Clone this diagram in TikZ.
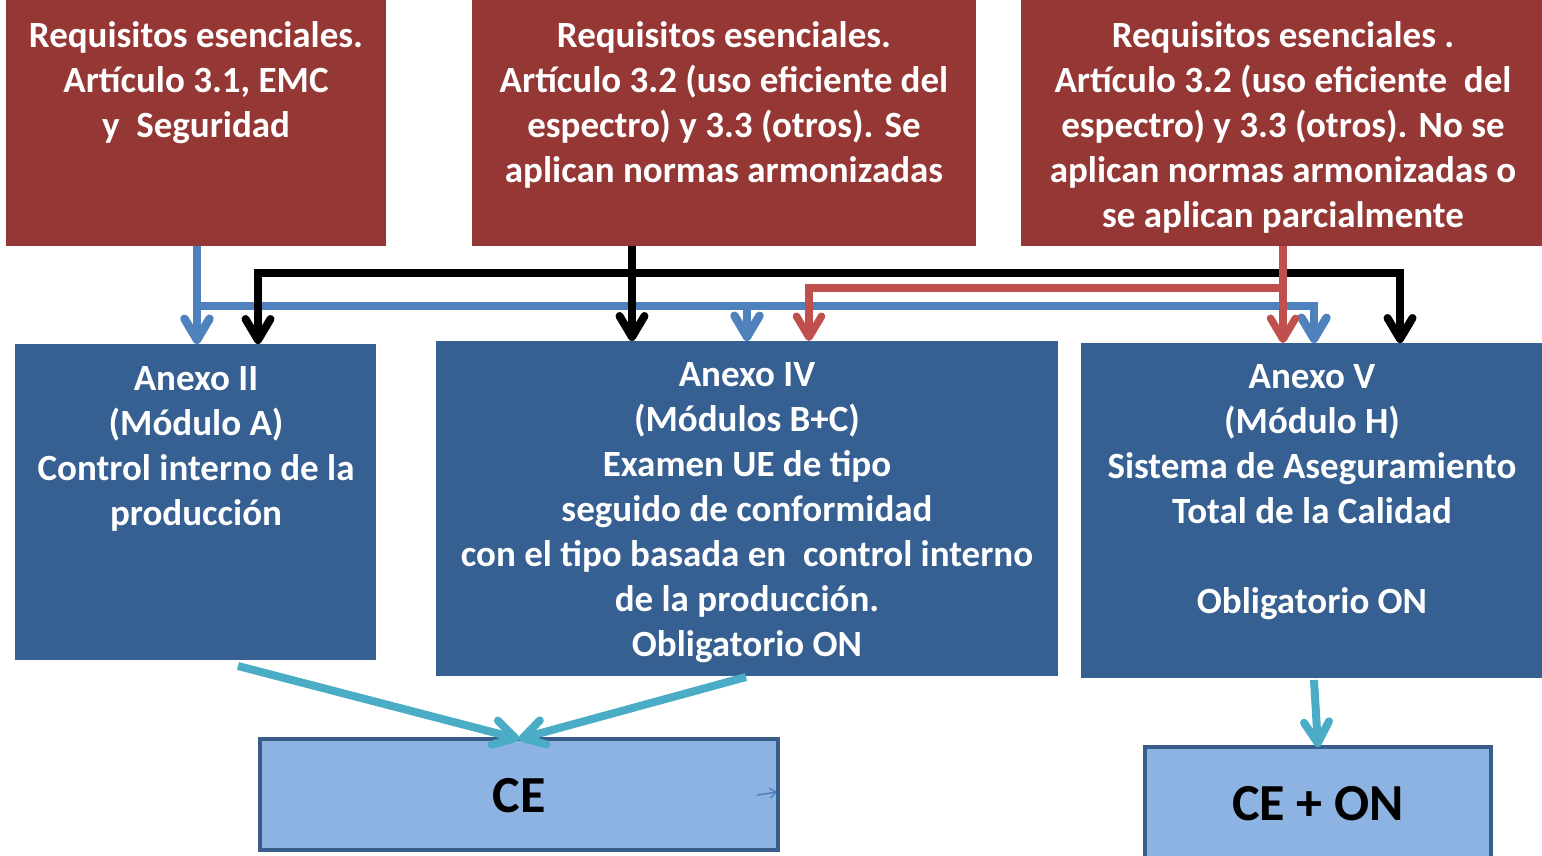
\documentclass[tikz,border=0pt]{standalone}
\usepackage{fontspec}
\setmainfont{Carlito}
\usetikzlibrary{arrows.meta,calc}
\definecolor{boxred}{HTML}{953735}
\definecolor{boxblue}{HTML}{376092}
\definecolor{lineblue}{HTML}{4F81BD}
\definecolor{linered}{HTML}{C0504D}
\definecolor{linecyan}{HTML}{4BACC6}
\definecolor{cefill}{HTML}{8DB3E2}
\definecolor{ceborder}{HTML}{385D8A}
\newcommand\mystrutA{\rule{0pt}{30pt}}
\tikzset{
  panel/.style={rectangle, inner sep=0pt, outer sep=0pt, anchor=north west},
  redbox/.style={panel, fill=boxred},
  bluebox/.style={panel, fill=boxblue},
  lbl/.style={inner sep=0pt, anchor=north, align=center, text=white,
              font=\fontsize{37}{45}\selectfont\bfseries},
  resbox/.style={panel, fill=cefill, draw=ceborder, line width=4pt},
  reslbl/.style={inner sep=0pt, text=black, font=\fontsize{52}{60}\selectfont\bfseries},
  tipend/.style={-{Straight Barb[length=21pt,width=25pt,round]}},
  tipboth/.style={{Straight Barb[length=21pt,width=25pt,round]}-{Straight Barb[length=21pt,width=25pt,round]}},
  bline/.style={draw=lineblue, line width=8.5pt},
  kline/.style={draw=black, line width=8pt},
  rline/.style={draw=linered, line width=7.5pt},
  cline/.style={draw=linecyan, line width=8pt},
}
\begin{document}
\begin{tikzpicture}[x=1pt,y=-1pt]
\useasboundingbox (0,0) rectangle (1542,855);

% top boxes
\node[redbox, minimum width=380pt, minimum height=246pt] (r1) at (6,0) {};
\node[redbox, minimum width=504pt, minimum height=246pt] (r2) at (472,0) {};
\node[redbox, minimum width=521pt, minimum height=246pt] (r3) at (1021,0) {};
\node[lbl] (r1t) at (196,17) {\mystrutA Requisitos esenciales.\\ Artículo 3.1, EMC\\ y\ \ Seguridad};
\node[lbl] (r2t) at (724,17) {\mystrutA Requisitos esenciales.\\ Artículo 3.2 (uso eficiente del\\ espectro) y 3.3 (otros). Se\\ aplican normas armonizadas};
\node[lbl] (r3t) at (1283,17) {\mystrutA Requisitos esenciales .\\ Artículo 3.2 (uso eficiente\ \ del\\ espectro) y 3.3 (otros). No se\\ aplican normas armonizadas o\\ se aplican parcialmente};

% middle boxes
\node[bluebox, minimum width=361pt, minimum height=316pt] (a1) at (15,344) {};
\node[bluebox, minimum width=622pt, minimum height=335pt] (a2) at (436,341) {};
\node[bluebox, minimum width=461pt, minimum height=335pt] (a3) at (1081,343) {};
\node[lbl] (a1t) at (196,360) {\mystrutA Anexo II\\ (Módulo A)\\ Control interno de la\\ producción};
\node[lbl] (a2t) at (747,356) {\mystrutA Anexo IV\\ (Módulos B+C)\\ Examen UE de tipo\\ seguido de conformidad\\ con el tipo basada en\ \ control interno\\ de la producción.\\ Obligatorio ON};
\node[lbl] (a3t) at (1312,358) {\mystrutA Anexo V\\ (Módulo H)\\ Sistema de Aseguramiento\\ Total de la Calidad\\[45pt] Obligatorio ON};

% result boxes
\node[resbox, minimum width=518pt, minimum height=111pt] (ce) at (260,739) {};
\node[resbox, minimum width=346pt, minimum height=140pt] (cn) at (1145,747) {};
\node[reslbl] (cet) at (519,796) {CE};
\node[reslbl] (cnt) at (1318,804) {CE + ON};

% blue connectors
\coordinate (bL) at (197,306);
\coordinate (bR) at (1314,306);
\draw[bline, tipend] (r1.south -| bL) -- (a1.north -| bL);
\draw[bline, tipend] (bL) -- (bR) -- (bR |- a3.north);
\draw[bline, tipend] (bL -| a2.north) -- (a2.north);

% black connectors
\coordinate (k0) at (632,246);
\coordinate (kL) at (258,273);
\coordinate (kR) at (1400,273);
\draw[kline, tipend] (k0) -- (k0 |- a2.north);
\draw[kline, tipboth] (kL |- a1.north) -- (kL) -- (kR) -- (kR |- a3.north);

% red connectors
\coordinate (q0) at (1283,246);
\coordinate (qL) at (809,288);
\draw[rline, tipend] (q0) -- (q0 |- a3.north);
\draw[rline, tipend] (q0 |- qL) -- (qL) -- (qL |- a2.north);

% cyan connectors
\coordinate (c1) at (238,666);
\coordinate (c2) at (746,677);
\coordinate (c3) at (1314,680);
\draw[cline, tipend] (c1) -- (ce.north);
\draw[cline, tipend] (c2) -- (ce.north);
\draw[cline, tipend] (c3) -- (cn.north);

% small stray arrow inside CE box
\coordinate (s1) at (757,795);
\coordinate (s2) at (777,792);
\draw[draw=lineblue, line width=1.5pt, -{Straight Barb[length=6pt,width=10pt]}] (s1) -- (s2);
\end{tikzpicture}
\end{document}
